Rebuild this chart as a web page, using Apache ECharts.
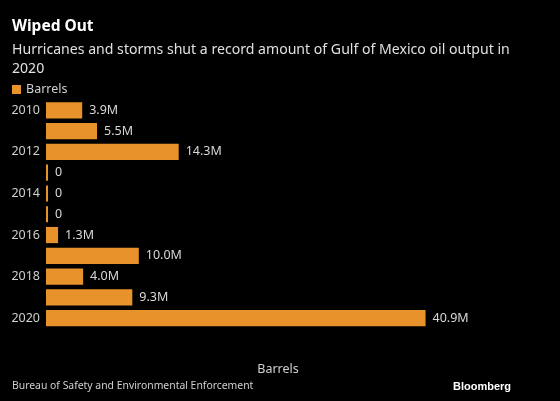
<!DOCTYPE html>
<html><head><meta charset="utf-8">
<script src="https://cdn.jsdelivr.net/npm/echarts@6/dist/echarts.min.js"></script>
<style>html,body{margin:0;padding:0;background:#000}#c{width:560px;height:401px}</style>
</head><body><div id="c"></div>
<script>
const years = ['2010','2011','2012','2013','2014','2015','2016','2017','2018','2019','2020'];
const barrels = [3.9, 5.5, 14.3, 0, 0, 0, 1.3, 10.0, 4.0, 9.3, 40.9];
const seriesName = 'Barrels';
const FONT = 'Noto Sans, sans-serif';
const chart = echarts.init(document.getElementById('c'));
chart.setOption({
  backgroundColor: '#000',
  animation: false,
  textStyle: { fontFamily: FONT },
  title: [
    { text: 'Wiped Out', left: 12, top: 19, padding: 0, textStyle: { color: '#fff', fontSize: 15.5, fontWeight: 'bold', fontFamily: FONT } },
    { text: 'Hurricanes and storms shut a record amount of Gulf of Mexico oil output in\n2020', left: 12, top: 40, padding: 0,
      textStyle: { color: '#e0e0e0', fontSize: 14.1, fontWeight: 'normal', lineHeight: 19, fontFamily: FONT } },
    { text: 'Bureau of Safety and Environmental Enforcement', left: 12, top: 381, padding: 0, textStyle: { color: '#d0d0d0', fontSize: 10.4, fontWeight: 'normal', fontFamily: FONT } },
    { text: 'Bloomberg', right: 49, top: 381, padding: 0, textStyle: { color: '#fff', fontSize: 11, fontWeight: 'bold', fontFamily: 'Liberation Sans, Arial, sans-serif' } }
  ],
  legend: {
    left: 12, top: 83, padding: 0, itemWidth: 9, itemHeight: 9, itemGap: 10,
    data: [{ name: seriesName, icon: 'rect' }],
    textStyle: { color: '#d0d0d0', fontSize: 12.5, fontFamily: FONT, padding: [0, 0, 0, 0] }
  },
  grid: { left: 46, right: 50, top: 100, bottom: 72.5, containLabel: false },
  xAxis: {
    type: 'value', min: 0, max: 50,
    name: 'Barrels', nameLocation: 'middle', nameGap: 34,
    nameTextStyle: { color: '#d0d0d0', fontSize: 12.5, fontFamily: FONT },
    axisLine: { show: false }, axisTick: { show: false }, axisLabel: { show: false }, splitLine: { show: false }
  },
  yAxis: {
    type: 'category', data: years, inverse: true,
    axisLine: { show: false }, axisTick: { show: false }, splitLine: { show: false },
    axisLabel: { color: '#d0d0d0', fontSize: 12.5, fontFamily: FONT, margin: 6, interval: 1 }
  },
  series: [{
    name: seriesName, type: 'bar', data: barrels,
    barCategoryGap: '22%', barMinHeight: 2,
    itemStyle: { color: '#e8922c' },
    label: { show: true, position: 'right', distance: 7, color: '#d8d8d8', fontSize: 12.5, fontFamily: FONT,
      formatter: p => p.value === 0 ? '0' : p.value.toFixed(1) + 'M' }
  }]
});
</script></body></html>
